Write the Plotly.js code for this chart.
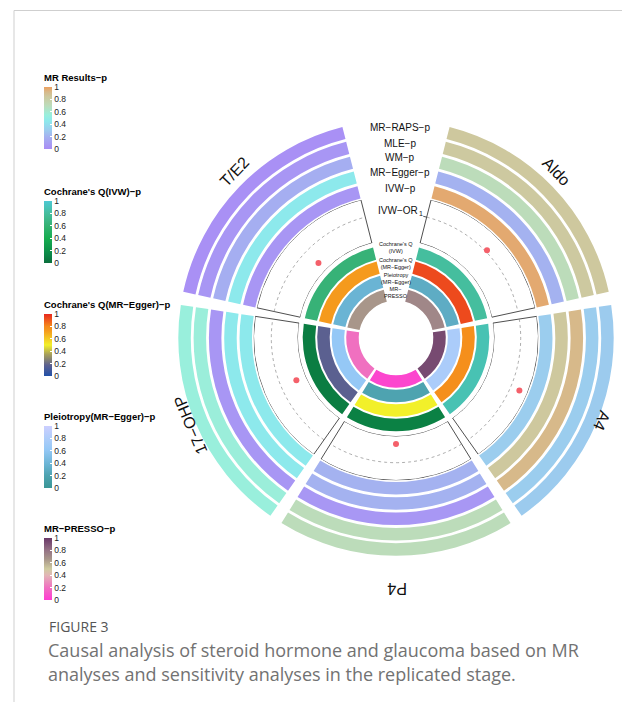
<!DOCTYPE html>
<html><head><meta charset="utf-8">
<script src="https://cdn.plot.ly/plotly-3.0.1.min.js"></script>
<style>html,body{margin:0;padding:0;background:#fff;}#chart{width:622px;height:702px;}</style>
</head><body><div id="chart"></div>
<script>
// ---------------- DATA ----------------
const hormones = ["Aldo", "A4", "P4", "17\u2212OHP", "T/E2"];
// MR results p-values (colour of outer rings)
const p_MRRAPS = [0.85, 0.30, 0.70, 0.55, 0.02];
const p_MLE    = [0.84, 0.31, 0.70, 0.56, 0.05];
const p_WM     = [0.70, 0.92, 0.06, 0.05, 0.18];
const p_Egger  = [0.20, 0.85, 0.20, 0.45, 0.45];
const p_IVW    = [0.97, 0.31, 0.20, 0.45, 0.05];
// IVW odds ratio
const or_IVW   = [1.004, 1.021, 0.958, 0.963, 0.962];
// sensitivity analyses p-values
const p_QIVW   = [0.80, 0.88, 0.10, 0.08, 0.62];
const p_QEgger = [0.93, 0.78, 0.50, 0.17, 0.73];
const p_Pleio  = [0.30, 0.78, 0.20, 0.62, 0.38];
const p_PRESSO = [0.72, 0.94, 0.04, 0.20, 0.66];
const legendTicks = [0, 0.2, 0.4, 0.6, 0.8, 1];
const legendTickText = ["0", "0.2", "0.4", "0.6", "0.8", "1"];

// ---------------- LAYOUT CONSTANTS ----------------
const W = 622, H = 702, CX = 396, CY = 338;
const R1 = 220;             // outer polar radius (px units)
const R2 = 142.5, R2in = 98; // IVW-OR track
const orRange = [0.94, 1.04];
const secWidth = 63.5, secStep = 67, secStart = 46;
const thetas = hormones.map((h, i) => secStart + i * secStep);
const FONT = "Liberation Sans, Arial, Helvetica, sans-serif";

const csMR = [[0,'#A98CF5'],[0.2,'#A4B2F0'],[0.3,'#9CCBEE'],[0.45,'#8DE9EC'],[0.55,'#99EFDC'],[0.7,'#BCDCBA'],[0.85,'#CEC89E'],[0.92,'#D7B98A'],[1,'#EBA060']];
const csQIVW = [[0,'#0B6E3C'],[0.15,'#0B8A48'],[0.4,'#16AD50'],[0.62,'#37B277'],[0.8,'#45BE9E'],[1,'#4DC8D3']];
const csQEgger = [[0,'#2150A8'],[0.17,'#5B6090'],[0.35,'#A8A05A'],[0.5,'#F2F02A'],[0.73,'#F59A1D'],[0.8,'#F58A1B'],[1,'#E8281E']];
const csPleio = [[0,'#3A9696'],[0.2,'#4EA3B0'],[0.38,'#6AB4D4'],[0.62,'#95C8F6'],[0.8,'#AECDFA'],[1,'#CCCFFF']];
const csPRESSO = [[0,'#FF3CD2'],[0.2,'#F070C0'],[0.4,'#E2B6B6'],[0.5,'#D0CCA0'],[0.66,'#A8968A'],[0.8,'#957385'],[1,'#6A3868']];

function cb(title, ytop) {
  return {
    title: {text: "<b>" + title + "</b>", side: "top", font: {family: FONT, size: 9.5, color: "#000"}},
    x: 44 / W, xanchor: "left", xpad: 0,
    y: 1 - ytop / H, yanchor: "top", ypad: 0,
    len: 78, lenmode: "pixels", thickness: 8, thicknessmode: "pixels",
    outlinewidth: 0, ticks: "inside", ticklen: 2, tickcolor: "#fff",
    tickvals: legendTicks, ticktext: legendTickText,
    tickfont: {family: FONT, size: 8.5, color: "#222"}
  };
}

const traces = [];
function ring(values, base, thick, cs, showScale, cbTitle, cbY) {
  const marker = {color: values, colorscale: cs, cmin: 0, cmax: 1, line: {width: 0}, showscale: !!showScale};
  if (showScale) marker.colorbar = cb(cbTitle, cbY);
  traces.push({type: "barpolar", subplot: "polar", theta: thetas, r: hormones.map(() => thick),
    base: hormones.map(() => base), width: hormones.map(() => secWidth), marker: marker, hoverinfo: "skip"});
}
const thick = 12.5;
// outer MR rings (inner -> outer)
ring(p_IVW, 144.0, thick, csMR, true, "MR Results\u2212p", 71);
ring(p_Egger, 159.3, thick, csMR);
ring(p_WM, 174.6, thick, csMR);
ring(p_MLE, 189.9, thick, csMR);
ring(p_MRRAPS, 205.2, thick, csMR);
// inner sensitivity rings
ring(p_QIVW, 80.8, thick, csQIVW, true, "Cochrane's Q(IVW)\u2212p", 185);
ring(p_QEgger, 66.3, thick, csQEgger, true, "Cochrane's Q(MR\u2212Egger)\u2212p", 298);
ring(p_Pleio, 51.8, thick, csPleio, true, "Pleiotropy(MR\u2212Egger)\u2212p", 410);
ring(p_PRESSO, 37.3, thick, csPRESSO, true, "MR\u2212PRESSO\u2212p", 522);

// IVW-OR track on polar2
traces.push({type: "barpolar", subplot: "polar2", theta: thetas,
  r: hormones.map(() => orRange[1] - orRange[0]), base: hormones.map(() => orRange[0]),
  width: hormones.map(() => secWidth),
  marker: {color: "rgba(0,0,0,0)", line: {color: "#222", width: 0.8}}, hoverinfo: "skip"});
// dashed reference line at OR = 1
const dth = [], dr = [];
thetas.forEach(t => {
  for (let a = t - secWidth / 2; a <= t + secWidth / 2 + 1e-6; a += 1) { dth.push(a); dr.push(1); }
  dth.push(null); dr.push(null);
});
traces.push({type: "scatterpolar", subplot: "polar2", theta: dth, r: dr, mode: "lines",
  line: {color: "#8a8a8a", width: 0.7, dash: "3px,3px"}, connectgaps: false, hoverinfo: "skip"});
// axis tick at OR = 1
traces.push({type: "scatterpolar", subplot: "polar2", theta: [thetas[0] - secWidth / 2 - 1.6, thetas[0] - secWidth / 2], r: [1, 1],
  mode: "lines", line: {color: "#222", width: 0.8}, hoverinfo: "skip"});
// OR points
traces.push({type: "scatterpolar", subplot: "polar2", theta: thetas, r: or_IVW, mode: "markers",
  marker: {color: "#F4606A", size: 6}, hoverinfo: "skip"});

const polarCommon = {
  bgcolor: "rgba(0,0,0,0)", barmode: "overlay",
  angularaxis: {rotation: 90, direction: "clockwise", showline: false, showgrid: false, showticklabels: false, ticks: ""},
};
const px = (x, y) => ({x: x / W, y: 1 - y / H});
const annotations = [];
function label(text, x, y, size, angle, extra) {
  const p = px(x, y);
  annotations.push(Object.assign({text: text, x: p.x, y: p.y, xref: "paper", yref: "paper",
    showarrow: false, xanchor: "center", yanchor: "middle", textangle: angle || 0,
    font: {family: FONT, size: size, color: "#111"}}, extra || {}));
}
// hormone labels
label("Aldo", 556, 172, 16, 46);
label("A4", 602, 421, 16, 113);
label("P4", 397, 589, 16, 180);
label("17\u2212OHP", 190, 425, 16, 247);
label("T/E2", 235, 172, 16, -46);
// outer track labels
label("MR\u2212RAPS\u2212p", 400, 128, 10);
label("MLE\u2212p", 400, 143, 10);
label("WM\u2212p", 400, 158, 10);
label("MR\u2212Egger\u2212p", 400, 173, 10);
label("IVW\u2212p", 400, 188, 10);
label("IVW\u2212OR", 398, 211, 10);
label("1", 421, 214, 7);
// inner track labels
label("Cochrane's Q<br>(IVW)", 396, 248, 5.5);
label("Cochrane's Q<br>(MR\u2212Egger)", 396, 263, 5.5);
label("Pleiotropy<br>(MR\u2212Egger)", 396, 278, 5.5);
label("MR\u2212<br>PRESSO", 396, 293, 5.5);
// caption
const CAPF = "Open Sans, Lato, sans-serif";
label("FIGURE 3", 47, 626, 14, 0, {xanchor: "left", font: {family: CAPF, size: 14, color: "#555"}});
label("Causal analysis of steroid hormone and glaucoma based on MR", 46, 650, 18, 0, {xanchor: "left", font: {family: CAPF, size: 18, color: "#727272"}});
label("analyses and sensitivity analyses in the replicated stage.", 46, 674, 18, 0, {xanchor: "left", font: {family: CAPF, size: 18, color: "#727272"}});

const layout = {
  width: W, height: H, margin: {l: 0, r: 0, t: 0, b: 0},
  paper_bgcolor: "#fff", showlegend: false,
  polar: Object.assign({}, polarCommon, {
    domain: {x: [(CX - R1) / W, (CX + R1) / W], y: [1 - (CY + R1) / H, 1 - (CY - R1) / H]},
    radialaxis: {range: [0, R1], visible: false, showgrid: false}
  }),
  polar2: Object.assign({}, polarCommon, {
    domain: {x: [(CX - R2) / W, (CX + R2) / W], y: [1 - (CY + R2) / H, 1 - (CY - R2) / H]},
    hole: R2in / R2,
    radialaxis: {range: orRange, visible: false, showgrid: false}
  }),
  annotations: annotations,
  shapes: [
    {type: "line", xref: "paper", yref: "paper", x0: 14 / W, x1: 1, y0: 1 - 10.5 / H, y1: 1 - 10.5 / H, line: {color: "#cfcfcf", width: 1}},
    {type: "line", xref: "paper", yref: "paper", x0: 14 / W, x1: 14 / W, y0: 1 - 10.5 / H, y1: 0, line: {color: "#cfcfcf", width: 1}}
  ]
};
Plotly.newPlot("chart", traces, layout, {staticPlot: true, displayModeBar: false});
</script></body></html>
